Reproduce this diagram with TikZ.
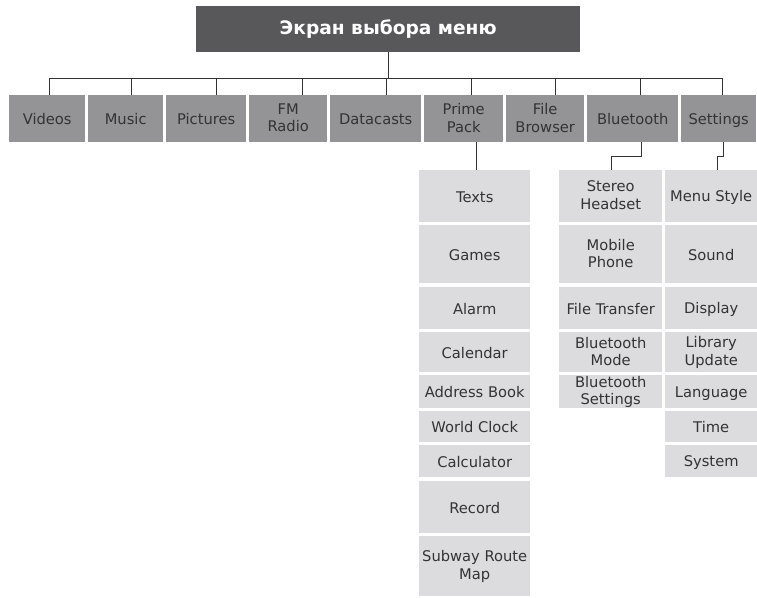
\documentclass[tikz,border=0pt]{standalone}
\usepackage{fontspec}
\setmainfont{DejaVu Sans}
\definecolor{titlegray}{HTML}{58585B}
\definecolor{midgray}{HTML}{949497}
\definecolor{lightgray}{HTML}{DCDCDE}
\definecolor{txtgray}{HTML}{333333}
\definecolor{linegray}{HTML}{333333}
\newcommand\boxstrut{\rule[-2pt]{0pt}{16pt}}
\newcommand\titlestrut{\rule[-1pt]{0pt}{16pt}}
\tikzset{
  boxbase/.style={rectangle, inner sep=0pt, anchor=north west, align=center, text=txtgray,
    font=\fontsize{14.7}{17.5}\selectfont, execute at begin node=\boxstrut, execute at end node=\boxstrut},
  titlebox/.style={boxbase, fill=titlegray, text=white, font=\fontsize{18.6}{21}\selectfont\bfseries,
    execute at begin node=\titlestrut, execute at end node=\titlestrut},
  mainbox/.style={boxbase, fill=midgray},
  subbox/.style={boxbase, fill=lightgray},
  conn/.style={draw=linegray, line width=1pt},
}
\newcommand\bx[7]{\node[#6, minimum width={#4pt-#2pt}, minimum height={#5pt-#3pt}] (#1) at (#2,#3) {#7};}
\begin{document}
\begin{tikzpicture}[x=1pt,y=-1pt]
\useasboundingbox (0,0) rectangle (757,597);
% title
\bx{top}{196}{6}{580}{52}{titlebox}{Экран выбора меню}
% main row
\bx{videos}{9}{95}{85}{142}{mainbox}{Videos}
\bx{music}{88}{95}{163}{142}{mainbox}{Music}
\bx{pictures}{166}{95}{246}{142}{mainbox}{Pictures}
\bx{fm}{249}{95}{327}{142}{mainbox}{FM\\Radio}
\bx{datacasts}{330}{95}{421}{142}{mainbox}{Datacasts}
\bx{prime}{424}{95}{503}{142}{mainbox}{Prime\\Pack}
\bx{file}{506}{95}{584}{142}{mainbox}{File\\Browser}
\bx{bt}{587}{95}{678}{142}{mainbox}{Bluetooth}
\bx{settings}{681}{95}{756}{142}{mainbox}{Settings}
% Prime Pack column
\bx{texts}{419}{170}{530}{222}{subbox}{Texts}
\bx{games}{419}{225}{530}{283}{subbox}{Games}
\bx{alarm}{419}{287}{530}{329}{subbox}{Alarm}
\bx{calendar}{419}{332}{530}{372}{subbox}{Calendar}
\bx{address}{419}{375}{530}{408}{subbox}{Address Book}
\bx{world}{419}{411}{530}{442}{subbox}{World Clock}
\bx{calc}{419}{445}{530}{477}{subbox}{Calculator}
\bx{record}{419}{481}{530}{533}{subbox}{Record}
\bx{subway}{419}{536}{530}{596}{subbox}{Subway Route\\Map}
% Bluetooth column
\bx{stereo}{559}{170}{662}{222}{subbox}{Stereo\\Headset}
\bx{mobile}{559}{225}{662}{283}{subbox}{Mobile\\Phone}
\bx{transfer}{559}{287}{662}{329}{subbox}{File Transfer}
\bx{btmode}{559}{332}{662}{372}{subbox}{Bluetooth\\Mode}
\bx{btset}{559}{375}{662}{408}{subbox}{Bluetooth\\Settings}
% Settings column
\bx{menustyle}{665}{170}{757}{222}{subbox}{Menu Style}
\bx{sound}{665}{225}{757}{283}{subbox}{Sound}
\bx{display}{665}{287}{757}{329}{subbox}{Display}
\bx{library}{665}{332}{757}{372}{subbox}{Library\\Update}
\bx{language}{665}{375}{757}{408}{subbox}{Language}
\bx{time}{665}{411}{757}{442}{subbox}{Time}
\bx{system}{665}{445}{757}{477}{subbox}{System}
% connectors
\coordinate (bus) at (0,78);
\coordinate (t1) at (49,78);
\coordinate (t2) at (131,78);
\coordinate (t3) at (216,78);
\coordinate (t4) at (302,78);
\coordinate (t5) at (386,78);
\coordinate (t6) at (471,78);
\coordinate (t7) at (555,78);
\coordinate (t8) at (640,78);
\coordinate (t9) at (722,78);
\draw[conn] (top.south) -- (top.south |- bus);
\draw[conn] (t1) -- (t9);
\draw[conn] (t1) -- (t1 |- videos.north);
\draw[conn] (t2) -- (t2 |- music.north);
\draw[conn] (t3) -- (t3 |- pictures.north);
\draw[conn] (t4) -- (t4 |- fm.north);
\draw[conn] (t5) -- (t5 |- datacasts.north);
\draw[conn] (t6) -- (t6 |- prime.north);
\draw[conn] (t7) -- (t7 |- file.north);
\draw[conn] (t8) -- (t8 |- bt.north);
\draw[conn] (t9) -- (t9 |- settings.north);
\coordinate (pp) at (476,0);
\draw[conn] (pp |- prime.south) -- (pp |- texts.north);
\coordinate (bb) at (641,156);
\coordinate (bs) at (611,156);
\draw[conn] (bb |- bt.south) -- (bb) -- (bs) -- (bs |- stereo.north);
\coordinate (sb) at (723,156);
\coordinate (ss) at (717,156);
\draw[conn] (sb |- settings.south) -- (sb) -- (ss) -- (ss |- menustyle.north);
\end{tikzpicture}
\end{document}
